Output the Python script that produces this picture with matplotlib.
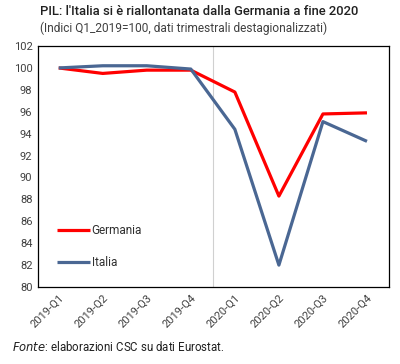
import matplotlib.pyplot as plt

plt.rcParams['font.family'] = ['Roboto', 'DejaVu Sans']

# Dati
trimestri = ["2019-Q1", "2019-Q2", "2019-Q3", "2019-Q4",
             "2020-Q1", "2020-Q2", "2020-Q3", "2020-Q4"]
germania = [100.0, 99.5, 99.8, 99.8, 97.8, 88.3, 95.8, 95.9]
italia = [100.0, 100.2, 100.2, 99.9, 94.4, 82.0, 95.1, 93.3]
yticks = list(range(80, 103, 2))

fig = plt.figure(figsize=(4, 3.64), dpi=100)
ax = fig.add_axes([0.095, 0.2115, 0.8775, 0.662])

x = list(range(len(trimestri)))
ax.plot(x, germania, color="#FF0000", lw=2.3, label="Germania", solid_capstyle="butt")
ax.plot(x, italia, color="#4A6793", lw=2.3, label="Italia", solid_capstyle="butt")
ax.axvline(3.5, color="#D0D0D0", lw=0.8, zorder=0)

ax.set_xlim(-0.47, 7.5)
ax.set_ylim(80, 102)
ax.set_yticks(yticks)
ax.set_xticks(x)
ax.set_xticklabels(trimestri, rotation=45, ha="right", rotation_mode="anchor")
ax.tick_params(length=0, labelsize=8, colors="#404040", pad=4)
for s in ax.spines.values():
    s.set_color("black")
    s.set_linewidth(0.9)

leg = ax.legend(loc="lower left", bbox_to_anchor=(0.025, 0.03), frameon=False,
                fontsize=8.5, handlelength=2.8, handletextpad=0.1,
                labelspacing=1.6, labelcolor="#303030")

fig.text(0.1, 0.985, "PIL: l'Italia si è riallontanata dalla Germania a fine 2020",
         fontsize=9.4, fontweight="medium", color="#202020", va="top")
fig.text(0.1, 0.94, "(Indici Q1_2019=100, dati trimestrali destagionalizzati)",
         fontsize=8.6, color="#404040", va="top")
fig.text(0.03, 0.035, "$\\it{Fonte}$: elaborazioni CSC su dati Eurostat.",
         fontsize=8.3, color="#202020")

fig.savefig("out.png", dpi=100)
